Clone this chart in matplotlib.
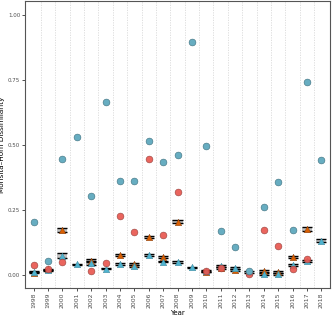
import numpy as np
import matplotlib
matplotlib.use("Agg")
import matplotlib.pyplot as plt

years = [str(y) for y in range(1998, 2019)]
nan = np.nan
blue_pts = [0.205, 0.055, 0.445, 0.530, 0.305, 0.665, 0.362, 0.362, 0.515, 0.435,
            0.462, 0.898, 0.498, 0.170, 0.107, 0.014, 0.262, 0.358, 0.172, 0.745, 0.443]
red_pts = [0.038, 0.024, 0.051, nan, 0.017, 0.047, 0.226, 0.165, 0.447, 0.154,
           0.320, nan, 0.015, 0.027, nan, 0.004, 0.172, 0.112, 0.023, 0.060, nan]
orange_mean = [0.008, 0.022, 0.172, nan, 0.055, nan, 0.078, 0.043, 0.145, 0.068,
               0.205, nan, 0.013, 0.028, 0.020, nan, 0.015, 0.012, 0.068, 0.177, nan]
orange_se = [0.002, 0.003, 0.008, nan, 0.005, nan, 0.004, 0.004, 0.004, 0.004,
             0.006, nan, 0.002, 0.004, 0.003, nan, 0.003, 0.003, 0.004, 0.008, nan]
blue_mean = [0.012, 0.018, 0.075, 0.042, 0.045, 0.025, 0.042, 0.035, 0.078, 0.052,
             0.051, 0.030, 0.015, 0.035, 0.028, 0.012, 0.005, 0.003, 0.038, 0.055, 0.132]
blue_se = [0.002, 0.003, 0.008, 0.002, 0.008, 0.003, 0.003, 0.004, 0.003, 0.003,
           0.003, 0.002, 0.003, 0.004, 0.003, 0.003, 0.004, 0.004, 0.003, 0.003, 0.005]

fig = plt.figure(figsize=(3.32, 3.21), dpi=100)
ax = fig.add_axes([25/332, 1-288/321, 305/332, 287/321])
x = np.arange(len(years))

for k in range(len(years) - 1):
    ax.axvline(k + 0.5, color="#d9d9d9", lw=0.6, ls=(0, (1.5, 1.5)), zorder=0)

w = 0.7
for m, s in [(orange_mean, orange_se), (blue_mean, blue_se)]:
    m = np.array(m); s = np.array(s)
    ok = ~np.isnan(m)
    ax.bar(x[ok], 2*s[ok], bottom=m[ok]-s[ok], width=w, color="#9a9a9a", alpha=0.6,
           edgecolor="none", zorder=2)
    ax.hlines(m[ok]+s[ok], x[ok]-w/2, x[ok]+w/2, color="black", lw=1.0, zorder=3)
    ax.hlines(m[ok]-s[ok], x[ok]-w/2, x[ok]+w/2, color="black", lw=1.0, zorder=3)

ax.scatter(x, orange_mean, marker="^", s=22, color="#D95F02", edgecolor="#7a3a10",
           linewidth=0.3, zorder=4)
ax.scatter(x, blue_mean, marker="^", s=22, color="#4FB3CF", edgecolor="#3a7f92",
           linewidth=0.3, zorder=4)
ax.scatter(x, red_pts, s=24, color="#E8544C", edgecolor="#8a3a35", linewidth=0.4,
           zorder=5, alpha=0.9)
ax.scatter(x, blue_pts, s=24, color="#67ADC1", edgecolor="#3f6f7d", linewidth=0.4,
           zorder=5)

ax.set_xlim(-0.6, 20.6)
ax.set_ylim(-0.05, 1.055)
ax.set_xticks(x)
ax.set_xticklabels(years, rotation=90, fontsize=4.4, color="#4d4d4d")
ax.set_yticks([0, 0.25, 0.5, 0.75, 1.0])
ax.set_yticklabels(["0.00", "0.25", "0.50", "0.75", "1.00"], fontsize=4.0, color="#4d4d4d")
ax.tick_params(length=2, width=0.6, color="#333333", pad=1.5)
for sp in ax.spines.values():
    sp.set_color("#555555")
    sp.set_linewidth(0.8)
ax.set_xlabel("Year", fontsize=5.0, labelpad=1.5)
ax.set_ylabel("Morisita\u2013Horn Dissimilarity", fontsize=5.2, labelpad=2)
fig.savefig("out.png", dpi=100)
